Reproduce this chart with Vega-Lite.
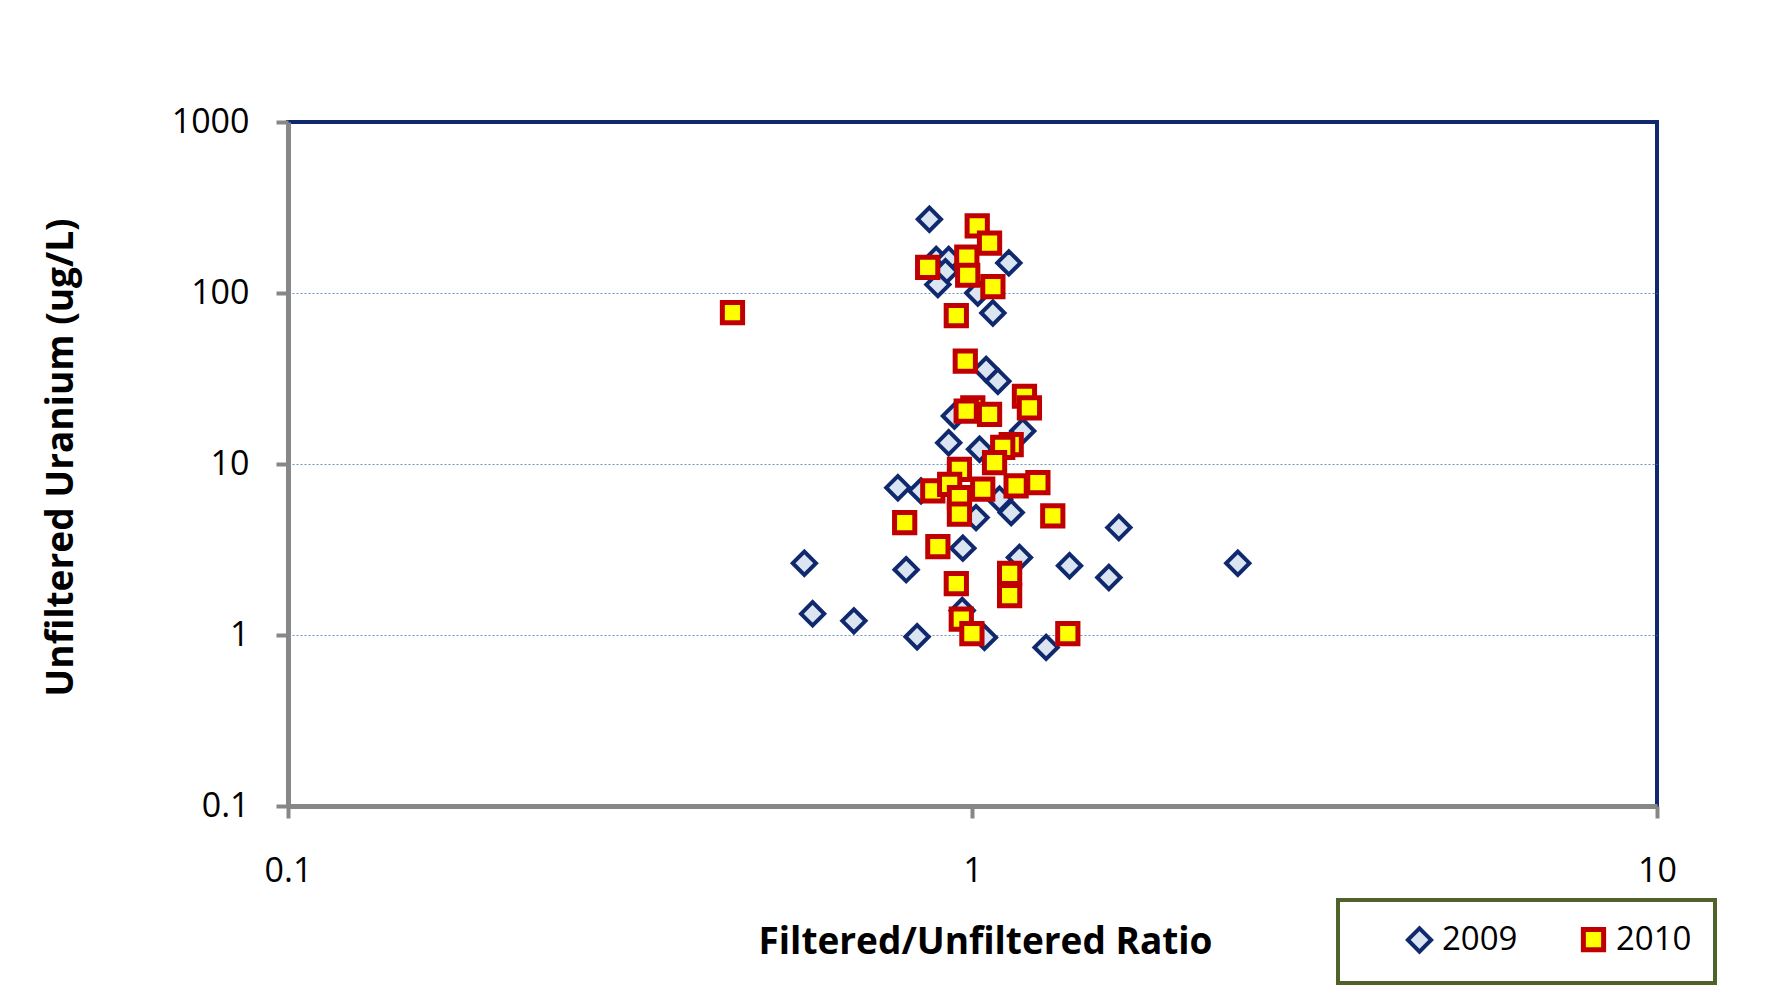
{
  "$schema": "https://vega.github.io/schema/vega-lite/v6.json",
  "width": 1369,
  "height": 684,
  "autosize": {"type": "none"},
  "padding": {"left": 288, "top": 122, "right": 112, "bottom": 190},
  "background": "white",
  "config": {
    "font": "Open Sans",
    "view": {"stroke": "#10296e", "strokeWidth": 4},
    "legend": {"strokeWidth": 4}
  },
  "data": {
    "values": [
      {"year": "2009", "ratio": 0.865, "uranium": 270},
      {"year": "2009", "ratio": 0.885, "uranium": 157},
      {"year": "2009", "ratio": 0.923, "uranium": 157},
      {"year": "2009", "ratio": 0.913, "uranium": 133},
      {"year": "2009", "ratio": 1.13, "uranium": 150},
      {"year": "2009", "ratio": 0.89, "uranium": 112},
      {"year": "2009", "ratio": 1.018, "uranium": 100},
      {"year": "2009", "ratio": 1.071, "uranium": 76.4},
      {"year": "2009", "ratio": 1.047, "uranium": 35.7},
      {"year": "2009", "ratio": 1.089, "uranium": 30.5},
      {"year": "2009", "ratio": 1.184, "uranium": 15.6},
      {"year": "2009", "ratio": 0.941, "uranium": 19.1},
      {"year": "2009", "ratio": 0.923, "uranium": 13.3},
      {"year": "2009", "ratio": 1.024, "uranium": 12.2},
      {"year": "2009", "ratio": 0.778, "uranium": 7.27},
      {"year": "2009", "ratio": 0.841, "uranium": 6.96},
      {"year": "2009", "ratio": 1.095, "uranium": 6.22},
      {"year": "2009", "ratio": 1.139, "uranium": 5.2},
      {"year": "2009", "ratio": 1.012, "uranium": 4.86},
      {"year": "2009", "ratio": 1.636, "uranium": 4.25},
      {"year": "2009", "ratio": 0.968, "uranium": 3.22},
      {"year": "2009", "ratio": 0.568, "uranium": 2.63},
      {"year": "2009", "ratio": 0.8, "uranium": 2.41},
      {"year": "2009", "ratio": 1.171, "uranium": 2.84},
      {"year": "2009", "ratio": 1.386, "uranium": 2.54},
      {"year": "2009", "ratio": 1.582, "uranium": 2.17},
      {"year": "2009", "ratio": 2.441, "uranium": 2.63},
      {"year": "2009", "ratio": 0.966, "uranium": 1.39},
      {"year": "2009", "ratio": 0.584, "uranium": 1.33},
      {"year": "2009", "ratio": 0.671, "uranium": 1.21},
      {"year": "2009", "ratio": 0.83, "uranium": 0.977},
      {"year": "2009", "ratio": 1.041, "uranium": 0.968},
      {"year": "2009", "ratio": 1.281, "uranium": 0.846},
      {"year": "2010", "ratio": 1.016, "uranium": 247},
      {"year": "2010", "ratio": 1.059, "uranium": 196},
      {"year": "2010", "ratio": 0.981, "uranium": 162},
      {"year": "2010", "ratio": 0.86, "uranium": 141},
      {"year": "2010", "ratio": 0.984, "uranium": 127},
      {"year": "2010", "ratio": 1.071, "uranium": 109},
      {"year": "2010", "ratio": 0.947, "uranium": 73.8},
      {"year": "2010", "ratio": 0.446, "uranium": 76.7},
      {"year": "2010", "ratio": 0.976, "uranium": 39.9},
      {"year": "2010", "ratio": 1.191, "uranium": 24.9},
      {"year": "2010", "ratio": 1.211, "uranium": 21.3},
      {"year": "2010", "ratio": 1.001, "uranium": 21.3},
      {"year": "2010", "ratio": 0.979, "uranium": 20.4},
      {"year": "2010", "ratio": 1.059, "uranium": 19.5},
      {"year": "2010", "ratio": 1.139, "uranium": 13.0},
      {"year": "2010", "ratio": 1.107, "uranium": 12.5},
      {"year": "2010", "ratio": 1.077, "uranium": 10.2},
      {"year": "2010", "ratio": 0.957, "uranium": 9.31},
      {"year": "2010", "ratio": 0.875, "uranium": 6.96},
      {"year": "2010", "ratio": 0.926, "uranium": 7.61},
      {"year": "2010", "ratio": 0.957, "uranium": 6.36},
      {"year": "2010", "ratio": 1.035, "uranium": 7.12},
      {"year": "2010", "ratio": 1.158, "uranium": 7.44},
      {"year": "2010", "ratio": 1.246, "uranium": 7.78},
      {"year": "2010", "ratio": 0.957, "uranium": 5.09},
      {"year": "2010", "ratio": 0.796, "uranium": 4.54},
      {"year": "2010", "ratio": 1.31, "uranium": 4.97},
      {"year": "2010", "ratio": 0.89, "uranium": 3.29},
      {"year": "2010", "ratio": 1.133, "uranium": 2.29},
      {"year": "2010", "ratio": 1.133, "uranium": 1.7},
      {"year": "2010", "ratio": 0.947, "uranium": 2.0},
      {"year": "2010", "ratio": 0.963, "uranium": 1.24},
      {"year": "2010", "ratio": 0.998, "uranium": 1.02},
      {"year": "2010", "ratio": 1.378, "uranium": 1.02}
    ]
  },
  "mark": {"type": "point", "opacity": 1},
  "encoding": {
    "x": {
      "field": "ratio",
      "type": "quantitative",
      "scale": {"type": "log", "domain": [0.1, 10], "nice": false},
      "axis": {
        "values": [0.1, 1, 10],
        "format": "~g",
        "title": "Filtered/Unfiltered Ratio",
        "grid": false,
        "domainColor": "#878787",
        "domainWidth": 5,
        "tickColor": "#878787",
        "tickWidth": 4,
        "tickSize": 12,
        "labelFontSize": 34,
        "labelColor": "black",
        "labelPadding": 63,
        "labelBaseline": "alphabetic",
        "labelFlush": false,
        "labelOverlap": false,
        "titleFontSize": 37,
        "titleFontWeight": "bold",
        "titleColor": "black",
        "titleX": 697,
        "titleY": 147,
        "titleAlign": "center",
        "titleBaseline": "alphabetic"
      }
    },
    "y": {
      "field": "uranium",
      "type": "quantitative",
      "scale": {"type": "log", "domain": [0.1, 1000], "nice": false},
      "axis": {
        "values": [0.1, 1, 10, 100, 1000],
        "format": "~g",
        "title": "Unfiltered Uranium (ug/L)",
        "grid": true,
        "gridColor": "#5b87c0",
        "gridDash": [2, 2],
        "gridWidth": 1,
        "gridOpacity": {"condition": {"test": "datum.value == 1000 || datum.value == 0.1", "value": 0}, "value": 0.9},
        "domainColor": "#878787",
        "domainWidth": 5,
        "tickColor": "#878787",
        "tickWidth": 4,
        "tickSize": 12,
        "labelFontSize": 34,
        "labelColor": "black",
        "labelPadding": 27,
        "labelFlush": false,
        "labelOverlap": false,
        "titleFontSize": 37,
        "titleFontWeight": "bold",
        "titleColor": "black",
        "titleX": -216,
        "titleY": 335,
        "titleAngle": 270,
        "titleAlign": "center",
        "titleBaseline": "alphabetic"
      }
    },
    "shape": {
      "field": "year",
      "type": "nominal",
      "scale": {"domain": ["2009", "2010"], "range": ["diamond", "square"]},
      "legend": {
        "title": null,
        "orient": "none",
        "legendX": 1050,
        "legendY": 778,
        "direction": "horizontal",
        "padding": 23,
        "strokeColor": "#4f6228",
        "fillColor": "white",
        "labelFontSize": 33,
        "labelColor": "black",
        "labelExpr": "datum.label == '2010' ? datum.label + '\u00a0\u00a0\u00a0' : datum.label",
        "symbolOffset": 42,
        "labelOffset": 6,
        "columnPadding": 17
      }
    },
    "size": {
      "field": "year",
      "type": "nominal",
      "scale": {"domain": ["2009", "2010"], "range": [540, 410]}
    },
    "strokeWidth": {
      "field": "year",
      "type": "nominal",
      "scale": {"domain": ["2009", "2010"], "range": [4, 5]}
    },
    "fill": {
      "field": "year",
      "type": "nominal",
      "scale": {"domain": ["2009", "2010"], "range": ["#dbe5f1", "#ffff00"]}
    },
    "stroke": {
      "field": "year",
      "type": "nominal",
      "scale": {"domain": ["2009", "2010"], "range": ["#10296e", "#c00000"]}
    }
  }
}
